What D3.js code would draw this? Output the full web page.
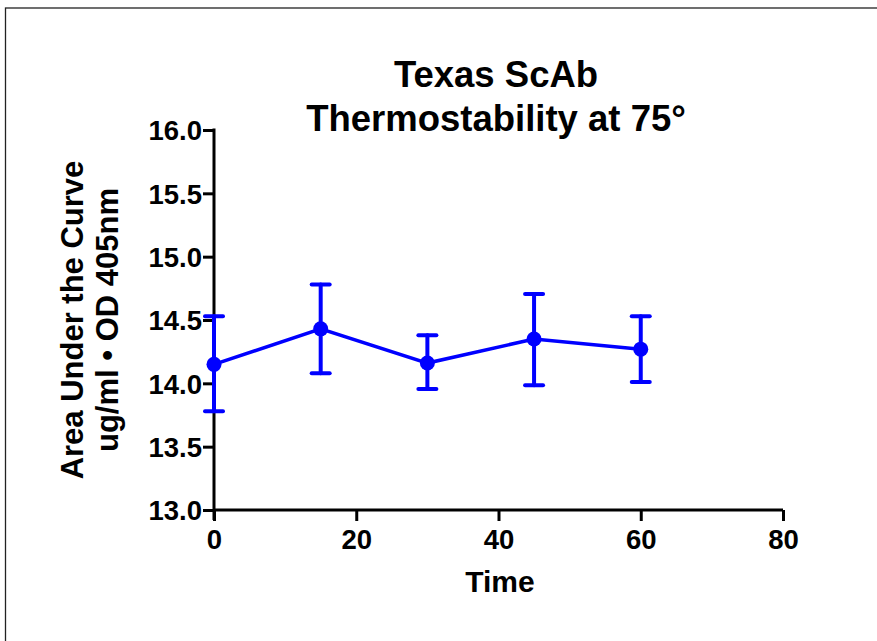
<!DOCTYPE html>
<html><head><meta charset="utf-8">
<script src="https://cdn.jsdelivr.net/npm/d3@7"></script>
<style>body{margin:0;background:#fff}svg{display:block}text{font-family:"Liberation Sans",Arial,sans-serif;font-weight:bold;fill:#000}</style>
</head><body>
<svg id="c" width="877" height="641"></svg>
<script>
const times = [0, 15, 30, 45, 60];
const means = [14.15, 14.43, 14.16, 14.35, 14.27];
const upper = [14.53, 14.78, 14.38, 14.705, 14.53];
const lower = [13.78, 14.08, 13.955, 13.985, 14.01];
const yTicks = [13.0, 13.5, 14.0, 14.5, 15.0, 15.5, 16.0];
const xTicks = [0, 20, 40, 60, 80];
const titleLines = ["Texas ScAb", "Thermostability at 75\u00B0"];
const yLabelLines = ["Area Under the Curve", "ug/ml \u2022 OD 405nm"];
const xLabel = "Time";

const svg = d3.select("#c");
svg.append("rect").attr("x",5.5).attr("y",8).attr("width",900).attr("height",700)
  .attr("fill","none").attr("stroke","#222").attr("stroke-width",1.3);

const x = d3.scaleLinear().domain([0,80]).range([214,783]);
const y = d3.scaleLinear().domain([13,16]).range([510,130]);

// y axis
const ya = svg.append("g").attr("transform","translate(214,0)")
  .call(d3.axisLeft(y).tickValues(yTicks).tickFormat(d3.format(".1f")).tickSize(11).tickSizeOuter(0));
ya.select(".domain").attr("stroke-width",3).attr("d","M0,128.5V520");
ya.selectAll(".tick line").attr("stroke-width",3);
ya.selectAll(".tick text").attr("x",-12).attr("dy","0.36em");

// x axis
const xa = svg.append("g").attr("transform","translate(0,510)")
  .call(d3.axisBottom(x).tickValues(xTicks).tickSize(11).tickSizeOuter(0));
xa.select(".domain").attr("stroke-width",3).attr("d","M214,0H783");
xa.selectAll(".tick line").attr("stroke-width",3);
xa.selectAll(".tick text").attr("y",19).attr("dy","0.71em");
svg.selectAll(".tick text").style("font-family","'Liberation Sans',Arial,sans-serif")
  .style("font-weight","bold").style("font-size","27.5px").attr("fill","#000");

// title
svg.append("text").attr("text-anchor","middle").style("font-size","36.5px")
  .selectAll("tspan").data(titleLines).join("tspan")
  .attr("x",496).attr("y",(d,i)=>87+i*44).text(d=>d);

// y label
const yl = svg.append("text").attr("transform","translate(0,320) rotate(-90)")
  .attr("text-anchor","middle").style("font-size","31px");
yl.selectAll("tspan").data(yLabelLines).join("tspan")
  .attr("x",0).attr("y",(d,i)=>83+i*35).text(d=>d);

// x label
svg.append("text").attr("x",500).attr("y",592).attr("text-anchor","middle").style("font-size","30px").text(xLabel);

const blue = "#0000ff";
const pts = times.map((t,i)=>({t,m:means[i],u:upper[i],l:lower[i]}));
const eb = svg.append("g").attr("stroke",blue).attr("stroke-width",4).attr("stroke-linecap","round");
eb.selectAll(".v").data(pts).join("line").attr("x1",d=>x(d.t)).attr("x2",d=>x(d.t)).attr("y1",d=>y(d.u)).attr("y2",d=>y(d.l));
eb.selectAll(".cu").data(pts).join("line").attr("x1",d=>x(d.t)-9).attr("x2",d=>x(d.t)+9).attr("y1",d=>y(d.u)).attr("y2",d=>y(d.u));
eb.selectAll(".cl").data(pts).join("line").attr("x1",d=>x(d.t)-9).attr("x2",d=>x(d.t)+9).attr("y1",d=>y(d.l)).attr("y2",d=>y(d.l));

svg.append("path").datum(pts).attr("fill","none").attr("stroke",blue).attr("stroke-width",3.5)
  .attr("d",d3.line().x(d=>x(d.t)).y(d=>y(d.m)));
svg.append("g").selectAll("circle").data(pts).join("circle")
  .attr("cx",d=>x(d.t)).attr("cy",d=>y(d.m)).attr("r",7.5).attr("fill",blue);
</script>
</body></html>
